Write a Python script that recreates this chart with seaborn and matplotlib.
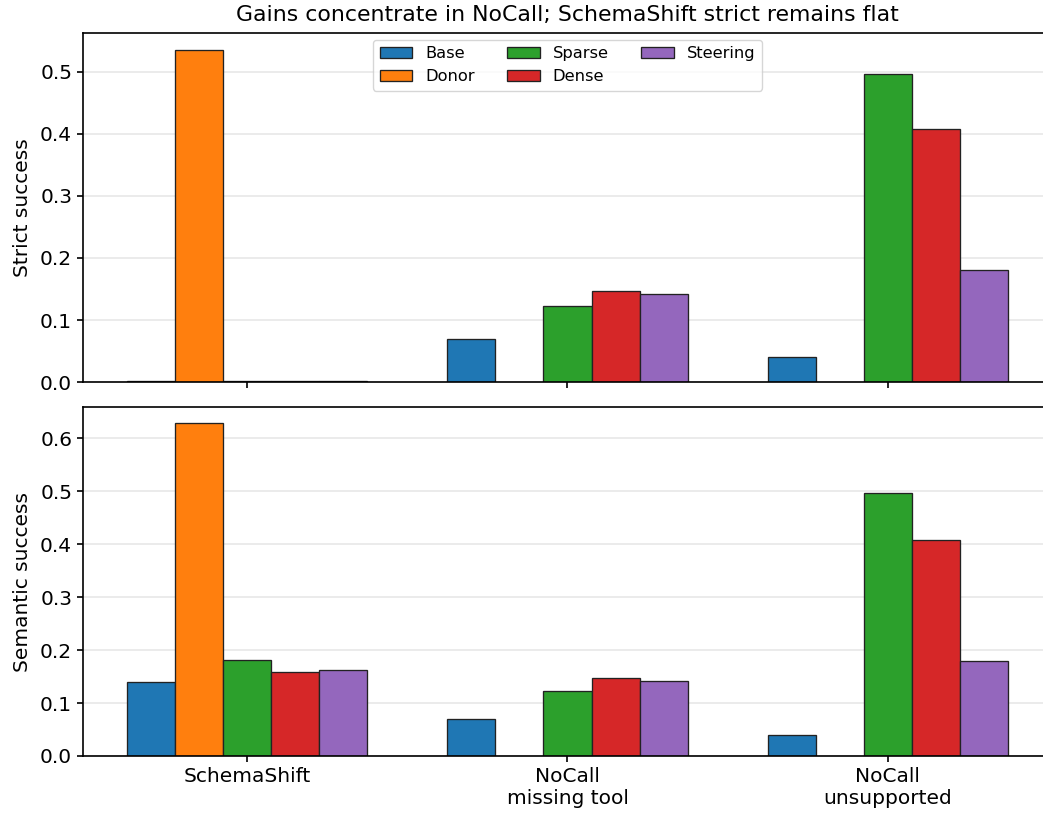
import numpy as np
import pandas as pd
import seaborn as sns
import matplotlib
matplotlib.use("Agg")
import matplotlib.pyplot as plt

# Task groups and methods
tasks = ["SchemaShift", "NoCall\nmissing tool", "NoCall\nunsupported"]
methods = ["Base", "Donor", "Sparse", "Dense", "Steering"]

# Strict success per method, ordered as in `tasks`
strict_base = [0.002, 0.070, 0.040]
strict_donor = [0.535, np.nan, np.nan]
strict_sparse = [0.002, 0.123, 0.496]
strict_dense = [0.002, 0.147, 0.408]
strict_steering = [0.002, 0.142, 0.180]

# Semantic success per method
sem_base = [0.140, 0.070, 0.040]
sem_donor = [0.628, np.nan, np.nan]
sem_sparse = [0.181, 0.123, 0.496]
sem_dense = [0.159, 0.147, 0.408]
sem_steering = [0.162, 0.142, 0.180]


def long_frame(series):
    rows = []
    for method, vals in zip(methods, series):
        for task, v in zip(tasks, vals):
            rows.append({"task": task, "method": method, "value": v})
    return pd.DataFrame(rows)


strict_df = long_frame([strict_base, strict_donor, strict_sparse, strict_dense, strict_steering])
sem_df = long_frame([sem_base, sem_donor, sem_sparse, sem_dense, sem_steering])

plt.rcParams["font.family"] = ["DejaVu Sans"]
plt.rcParams["axes.linewidth"] = 1.2

palette = sns.color_palette("tab10", 5)

fig = plt.figure(figsize=(10.43, 8.15), dpi=100)
ax1 = fig.add_axes([0.0796, 0.531, 0.929, 0.4285])
ax2 = fig.add_axes([0.0796, 0.0724, 0.929, 0.4282], sharex=ax1)

for ax, df, label in [(ax1, strict_df, "Strict success"), (ax2, sem_df, "Semantic success")]:
    sns.barplot(data=df, x="task", y="value", hue="method", hue_order=methods,
                order=tasks, palette=palette, width=0.75, edgecolor="#222222",
                linewidth=0.95, ax=ax, legend=(ax is ax1), errorbar=None,
                saturation=1)
    ax.set_xlabel("")
    ax.set_ylabel(label, fontsize=14.5, labelpad=6)
    ax.grid(axis="y", color="#e8e8e8", linewidth=1.2)
    ax.set_axisbelow(True)
    ax.spines["right"].set_visible(False)
    ax.tick_params(axis="both", labelsize=14.5, length=4.3, width=1.2)
    ax.set_xlim(-0.5125, 2.5125)

ax1.set_ylim(0, 0.562)
ax2.set_ylim(0, 0.659)
ax1.set_yticks([0.0, 0.1, 0.2, 0.3, 0.4, 0.5])
ax2.set_yticks([0.0, 0.1, 0.2, 0.3, 0.4, 0.5, 0.6])
ax1.tick_params(axis="x", labelbottom=False)
ax2.set_xticks(range(len(tasks)))
ax2.set_xticklabels(tasks, fontsize=14.5)

ax1.set_title("Gains concentrate in NoCall; SchemaShift strict remains flat",
              fontsize=15.8, pad=9)

leg = ax1.legend(loc="upper center", ncol=3, fontsize=11.7, frameon=True,
                 handlelength=2.0, columnspacing=2.0, borderaxespad=0.4)
leg.get_frame().set_edgecolor("#cccccc")

fig.savefig("out.png", dpi=100)
